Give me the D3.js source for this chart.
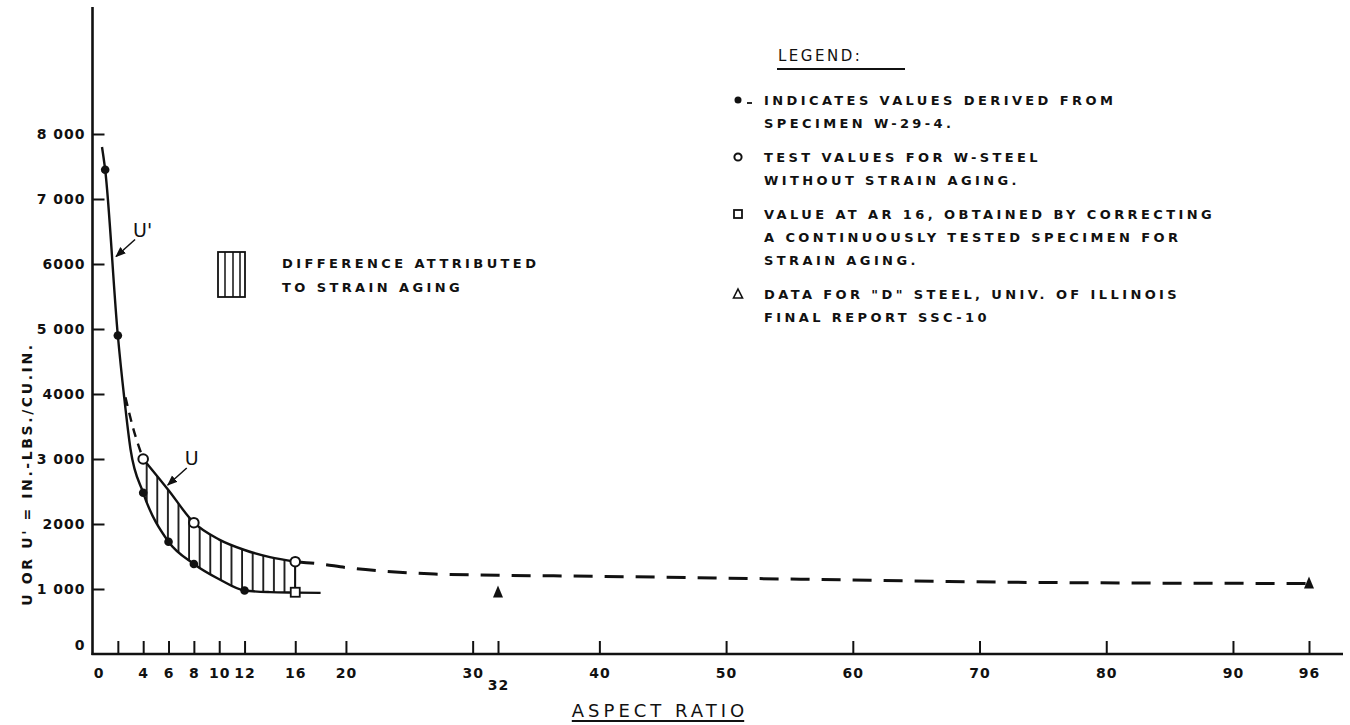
<!DOCTYPE html>
<html>
<head>
<meta charset="utf-8">
<script src="https://cdn.jsdelivr.net/npm/d3@7"></script>
<style>
  body { margin: 0; background: #fff; }
  text { font-family: "DejaVu Sans", sans-serif; fill: #111; }
</style>
</head>
<body>
<svg id="chart"></svg>
<script>
// ---- data ----
const xTickValues = [0, 2, 4, 6, 8, 10, 12, 16, 20, 30, 32, 40, 50, 60, 70, 80, 90, 96];
const xTickLabels = ["0", "", "4", "6", "8", "10", "12", "16", "20", "30", "32", "40", "50", "60", "70", "80", "90", "96"];
const yTickValues = [0, 1000, 2000, 3000, 4000, 5000, 6000, 7000, 8000];
const yTickLabels = ["0", "1 000", "2000", "3 000", "4000", "5 000", "6000", "7 000", "8 000"];

// U' curve (specimen W-29-4) and its points
const uPrimeCurve = [[0.75, 7800], [1, 7450], [2, 4900], [2.5, 3950], [3, 3150], [4, 2480], [6, 1726],
  [8, 1385], [10, 1150], [12, 977], [14, 952], [16, 945], [18, 940]];
const uPrimeDots = [[1, 7450], [2, 4900], [4, 2480], [6, 1726], [8, 1385], [12, 977]];

// U curve (W-steel without strain aging)
const uCurveHead = [[2.6, 3950], [3.2, 3480], [4, 3000]];
const uCurve = [[4, 3000], [6, 2520], [8, 2020], [10, 1760], [12, 1600], [14, 1490], [16, 1420]];
const uCurveTail = [[16, 1420], [18, 1385], [20, 1330], [23, 1275], [27, 1230], [32, 1212], [40, 1195],
  [56, 1150], [72, 1105], [88, 1088], [96, 1085]];
const uOpenPoints = [[4, 3000], [8, 2020], [16, 1420]];

const arSquare = [[16, 950]];
const dSteelPoints = [[32, 945], [96, 1085]];

const hatchKey = ["DIFFERENCE ATTRIBUTED", "TO STRAIN AGING"];
const legendTitle = "LEGEND:";
const legendEntries = [
  { symbol: "dot", lines: ["INDICATES VALUES DERIVED FROM", "SPECIMEN W-29-4."] },
  { symbol: "circle", lines: ["TEST VALUES FOR W-STEEL", "WITHOUT  STRAIN AGING."] },
  { symbol: "square", lines: ["VALUE AT AR 16, OBTAINED BY CORRECTING", "A CONTINUOUSLY TESTED SPECIMEN FOR", "STRAIN AGING."] },
  { symbol: "triangle", lines: ["DATA FOR \"D\" STEEL, UNIV. OF ILLINOIS", "FINAL REPORT SSC-10"] }
];
const annotations = [
  { label: "U'", tip: [1.78, 6100] },
  { label: "U", tip: [5.86, 2584] }
];
const xTitle = "ASPECT  RATIO";
const yTitle = "U OR  U' = IN.-LBS./CU.IN.";

// ---- drawing ----
const width = 1350, height = 725;
const ink = '#111';
const svg = d3.select('#chart').attr('width', width).attr('height', height);
svg.append('rect').attr('width', width).attr('height', height).attr('fill', '#fff');

const xScale = d3.scaleLinear().domain([0, 96]).range([92.5, 1309]);
const yScale = d3.scaleLinear().domain([0, 8000]).range([654, 134]);

const defs = svg.append('defs');
defs.append('marker')
    .attr('id', 'arrow')
    .attr('viewBox', '0 0 10 10')
    .attr('refX', 9).attr('refY', 5)
    .attr('markerWidth', 7).attr('markerHeight', 7)
    .attr('orient', 'auto')
  .append('path')
    .attr('d', 'M0,1 L10,5 L0,9 Z')
    .attr('fill', ink);

// vertical hatching pattern
const hatch = defs.append('pattern')
    .attr('id', 'hatch')
    .attr('patternUnits', 'userSpaceOnUse')
    .attr('x', 146.7 - 1)
    .attr('width', 10.6).attr('height', 20);
hatch.append('line')
    .attr('x1', 1).attr('x2', 1).attr('y1', 0).attr('y2', 20)
    .attr('stroke', ink).attr('stroke-width', 1.8);

const line = d3.line()
    .x(d => xScale(d[0]))
    .y(d => yScale(d[1]))
    .curve(d3.curveMonotoneX);

const areaBelow = d3.area()
    .x(d => xScale(d[0]))
    .y0(yScale(0))
    .y1(d => yScale(d[1]))
    .curve(d3.curveMonotoneX);

// mask: under the U curve but above the U' curve
const mask = defs.append('mask').attr('id', 'between');
mask.append('path').attr('d', areaBelow(uCurve)).attr('fill', '#fff');
mask.append('path').attr('d', areaBelow(uPrimeCurve)).attr('fill', '#000');

svg.append('rect')
    .attr('x', xScale(4)).attr('y', yScale(8000))
    .attr('width', xScale(16) - xScale(4)).attr('height', yScale(0) - yScale(8000))
    .attr('fill', 'url(#hatch)')
    .attr('mask', 'url(#between)');

// axes
const xAxis = d3.axisBottom(xScale)
    .tickValues(xTickValues)
    .tickSize(-13)
    .tickPadding(14)
    .tickFormat((d, i) => xTickLabels[i]);

const yAxis = d3.axisLeft(yScale)
    .tickValues(yTickValues)
    .tickSize(-12)
    .tickPadding(7)
    .tickFormat((d, i) => yTickLabels[i]);

const xAxisG = svg.append('g')
    .attr('transform', `translate(0,${yScale(0)})`)
    .call(xAxis);
const yAxisG = svg.append('g')
    .attr('transform', `translate(${xScale(0)},0)`)
    .call(yAxis);

[xAxisG, yAxisG].forEach(g => {
  g.select('.domain').remove();
  g.selectAll('.tick line').attr('stroke', ink).attr('stroke-width', 2);
  g.selectAll('.tick text').attr('font-size', 14).attr('fill', ink)
    .attr('font-family', '"DejaVu Sans", sans-serif').attr('font-weight', 'bold')
    .attr('letter-spacing', 1);
});
xAxisG.selectAll('.tick').filter(d => d === 0).select('line').remove();
xAxisG.selectAll('.tick').filter(d => d === 0).select('text').attr('dx', 6);
xAxisG.selectAll('.tick').filter(d => d === 32).select('text').attr('dy', '1.6em');
yAxisG.selectAll('.tick').filter(d => d === 0).select('line').remove();
yAxisG.selectAll('.tick').filter(d => d === 0).select('text').attr('y', -9);

// axis lines
svg.append('line')
    .attr('x1', xScale(0)).attr('x2', xScale(0))
    .attr('y1', 7).attr('y2', yScale(0) + 1)
    .attr('stroke', ink).attr('stroke-width', 2.6);
svg.append('line')
    .attr('x1', xScale(0) - 1).attr('x2', 1343)
    .attr('y1', yScale(0)).attr('y2', yScale(0))
    .attr('stroke', ink).attr('stroke-width', 2.6);

// curves
svg.append('path').attr('d', line(uPrimeCurve))
    .attr('fill', 'none').attr('stroke', ink).attr('stroke-width', 2.4);
svg.append('path').attr('d', line(uCurve))
    .attr('fill', 'none').attr('stroke', ink).attr('stroke-width', 2.4);
svg.append('path').attr('d', line(uCurveHead))
    .attr('fill', 'none').attr('stroke', ink).attr('stroke-width', 2.4)
    .attr('stroke-dasharray', '9,7');
svg.append('path').attr('d', line(uCurveTail))
    .attr('fill', 'none').attr('stroke', ink).attr('stroke-width', 3)
    .attr('stroke-dasharray', '19,12');

// closing hatch line at AR 16
svg.append('line')
    .attr('x1', xScale(16)).attr('x2', xScale(16))
    .attr('y1', yScale(uOpenPoints[2][1])).attr('y2', yScale(arSquare[0][1]))
    .attr('stroke', ink).attr('stroke-width', 1.8);

// markers
svg.selectAll('.dot').data(uPrimeDots).join('circle')
    .attr('class', 'dot')
    .attr('cx', d => xScale(d[0])).attr('cy', d => yScale(d[1]))
    .attr('r', 4.3).attr('fill', ink);

svg.selectAll('.open').data(uOpenPoints).join('circle')
    .attr('class', 'open')
    .attr('cx', d => xScale(d[0])).attr('cy', d => yScale(d[1]))
    .attr('r', 4.8).attr('fill', '#fff').attr('stroke', ink).attr('stroke-width', 2);

svg.selectAll('.sq').data(arSquare).join('rect')
    .attr('class', 'sq')
    .attr('x', d => xScale(d[0]) - 4.5).attr('y', d => yScale(d[1]) - 4.5)
    .attr('width', 9).attr('height', 9)
    .attr('fill', '#fff').attr('stroke', ink).attr('stroke-width', 1.8);

svg.selectAll('.tri').data(dSteelPoints).join('path')
    .attr('class', 'tri')
    .attr('transform', d => `translate(${xScale(d[0])},${yScale(d[1])})`)
    .attr('d', 'M0,-7 L5,5 L-5,5 Z')
    .attr('fill', ink);

// curve labels with arrows
annotations.forEach(a => {
  const tx = xScale(a.tip[0]), ty = yScale(a.tip[1]);
  svg.append('line')
      .attr('x1', tx + 20).attr('y1', ty - 18)
      .attr('x2', tx + 1).attr('y2', ty - 1)
      .attr('stroke', ink).attr('stroke-width', 1.5)
      .attr('marker-end', 'url(#arrow)');
  svg.append('text')
      .attr('x', tx + 18).attr('y', ty - 21)
      .attr('font-size', 19)
      .text(a.label);
});

// hatch key
const keyX = 218, keyY = 252;
svg.append('rect')
    .attr('x', keyX).attr('y', keyY).attr('width', 27).attr('height', 45)
    .attr('fill', 'none').attr('stroke', ink).attr('stroke-width', 1.8);
[7, 15, 22].forEach(dx => {
  svg.append('line')
      .attr('x1', keyX + dx).attr('x2', keyX + dx)
      .attr('y1', keyY).attr('y2', keyY + 45)
      .attr('stroke', ink).attr('stroke-width', 1.5);
});
hatchKey.forEach((t, i) => {
  svg.append('text')
      .attr('x', 282).attr('y', 268 + i * 24)
      .attr('font-size', 13).attr('font-weight', 'bold').attr('letter-spacing', 3.4)
      .text(t);
});

// legend
svg.append('text')
    .attr('x', 778).attr('y', 61)
    .attr('font-size', 15).attr('letter-spacing', 2.5)
    .text(legendTitle);
svg.append('line')
    .attr('x1', 777).attr('x2', 905).attr('y1', 69).attr('y2', 69)
    .attr('stroke', ink).attr('stroke-width', 1.8);

let rowY = 100;
legendEntries.forEach(entry => {
  const sy = rowY;
  const sx = 740;
  if (entry.symbol === 'dot') {
    svg.append('circle').attr('cx', sx - 2).attr('cy', sy).attr('r', 3.5).attr('fill', ink);
    svg.append('line').attr('x1', sx + 7).attr('x2', sx + 12).attr('y1', sy + 3).attr('y2', sy + 3)
        .attr('stroke', ink).attr('stroke-width', 1.8);
  } else if (entry.symbol === 'circle') {
    svg.append('circle').attr('cx', sx - 2).attr('cy', sy).attr('r', 3.6)
        .attr('fill', 'none').attr('stroke', ink).attr('stroke-width', 2);
  } else if (entry.symbol === 'square') {
    svg.append('rect').attr('x', sx - 6).attr('y', sy - 4).attr('width', 8).attr('height', 8)
        .attr('fill', 'none').attr('stroke', ink).attr('stroke-width', 1.8);
  } else {
    svg.append('path').attr('transform', `translate(${sx - 2},${sy})`)
        .attr('d', 'M0,-5 L4.5,4 L-4.5,4 Z')
        .attr('fill', 'none').attr('stroke', ink).attr('stroke-width', 1.6);
  }
  entry.lines.forEach(t => {
    svg.append('text')
        .attr('x', 764).attr('y', rowY + 5)
        .attr('font-size', 13).attr('font-weight', 'bold').attr('letter-spacing', 3.4)
        .text(t);
    rowY += 23;
  });
  rowY += 11;
});

// axis titles
const xt = svg.append('text')
    .attr('x', 660).attr('y', 717)
    .attr('text-anchor', 'middle')
    .attr('font-size', 18).attr('letter-spacing', 4)
    .text(xTitle);
const xtBox = xt.node().getBBox();
svg.append('line')
    .attr('x1', xtBox.x).attr('x2', xtBox.x + xtBox.width - 4)
    .attr('y1', 721).attr('y2', 721)
    .attr('stroke', ink).attr('stroke-width', 2);

svg.append('text')
    .attr('transform', 'translate(32,474) rotate(-90)')
    .attr('text-anchor', 'middle')
    .attr('font-size', 14).attr('font-weight', 'bold').attr('letter-spacing', 2.6)
    .text(yTitle);
</script>
</body>
</html>
